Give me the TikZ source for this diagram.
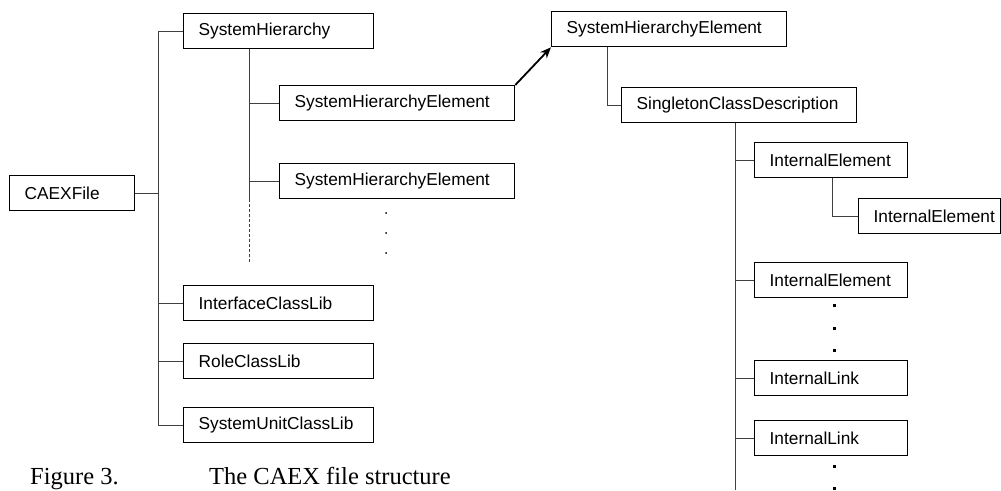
\documentclass[tikz,border=0pt]{standalone}
\usepackage{fontspec}
\setmainfont{Liberation Sans}
\newfontfamily\capfont{Liberation Serif}
\usepackage{tikz}
\usetikzlibrary{arrows.meta}
\usetikzlibrary{calc,positioning}

\begin{document}
\begin{tikzpicture}[>={Stealth[length=11pt,width=9pt]}, x=1pt, y=-1pt,
    box/.style={draw, line width=1.3pt, anchor=north west, minimum height=35pt,
        inner xsep=15pt, inner ysep=0pt, text width=#1, align=left,
        font=\fontsize{17.3}{20}\selectfont},
    link/.style={line width=0.9pt, black!75},
    pt/.style={fill=black}]

    \useasboundingbox (0,0) rectangle (1001,490);

    \node[box=95pt]  (cf)   at (9,175)   {CAEXFile};
    \node[box=160pt] (sh)   at (183,13)  {SystemHierarchy};
    \node[box=205pt] (she1) at (279,85)  {SystemHierarchyElement};
    \node[box=205pt] (she2) at (279,163) {SystemHierarchyElement};
    \node[box=160pt] (icl)  at (183,285) {InterfaceClassLib};
    \node[box=160pt] (rcl)  at (183,343) {RoleClassLib};
    \node[box=160pt] (sul)  at (183,407) {SystemUnitClassLib};

    \node[box=205pt] (shr)  at (551,11)  {SystemHierarchyElement};
    \node[box=205pt] (scd)  at (621,87)  {SingletonClassDescription};
    \node[box=123pt] (ie1)  at (754,142) {InternalElement};
    \node[box=112pt] (ien)  at (858,198) {InternalElement};
    \node[box=123pt] (ie2)  at (754,262) {InternalElement};
    \node[box=123pt] (il1)  at (754,360) {InternalLink};
    \node[box=123pt] (il2)  at (754,420) {InternalLink};

    \coordinate (tr)  at (158,0);
    \coordinate (sht) at ([xshift=66pt]sh.south west);
    \coordinate (sct) at ([xshift=114pt]scd.south west);
    \coordinate (bot) at (0,490);

    \draw[link] (sh.west) -| (tr |- sul.west) -- (sul.west);
    \draw[link] (cf.east) -- (cf.east -| tr);
    \foreach \n in {icl,rcl}
        \draw[link] (\n.west -| tr) -- (\n.west);

    \draw[link] (sht) -- (sht |- she2.south);
    \draw[link, dash pattern=on 3pt off 2pt] (sht |- she2.south) -- ++(0,64);
    \foreach \n in {she1,she2}
        \draw[link] (\n.west -| sht) -- (\n.west);
    \foreach \y in {213,233,253}
        \fill[pt] (386,\y) circle (1pt);

    \draw[->, line width=1.8pt] (she1.north east) -- (shr.south west);

    \draw[link] ([xshift=56pt]shr.south west) |- (scd.west);
    \draw[link] (sct) -- (sct |- bot);
    \foreach \n in {ie1,ie2,il1,il2}
        \draw[link] (\n.west -| sct) -- (\n.west);
    \draw[link] ([xshift=78pt]ie1.south west) |- (ien.west);
    \foreach \y in {305,328,350,466,488}
        \fill[pt] (834,\y) ++(-1.5,-1.5) rectangle ++(3,3);

    \node[anchor=base west, inner sep=0pt, font=\capfont\fontsize{24.5}{28}\selectfont] (fig) at (30,484) {Figure 3.};
    \node[anchor=base west, inner sep=0pt, font=\capfont\fontsize{24.5}{28}\selectfont] (cap) at (209,484) {The CAEX file structure};

\end{tikzpicture}
\end{document}
